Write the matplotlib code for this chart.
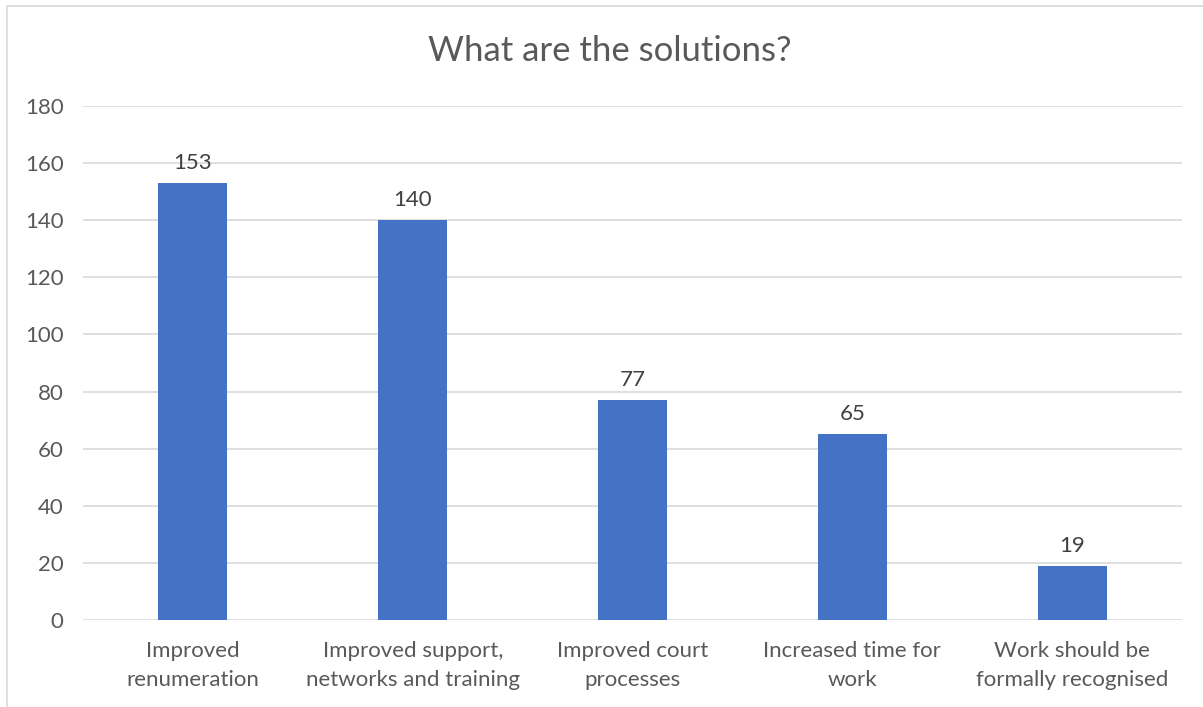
import matplotlib.pyplot as plt
from matplotlib.patches import Rectangle

categories = ['Improved\nrenumeration', 'Improved support,\nnetworks and training',
              'Improved court\nprocesses', 'Increased time for\nwork',
              'Work should be\nformally recognised']
values = [153, 140, 77, 65, 19]
yticks = list(range(0, 200, 20))

plt.rcParams['font.family'] = ['Lato', 'DejaVu Sans']
grey = '#595959'

fig = plt.figure(figsize=(12.03, 7.07), dpi=100)
ax = fig.add_axes([0.069, 0.123, 0.9135, 0.727])

x = list(range(len(categories)))
bars = ax.bar(x, values, width=0.314, color='#4472c4', zorder=3)
for xi, v in zip(x, values):
    ax.text(xi, v + 3.5, str(v), ha='center', va='bottom', fontsize=16, color='#404040')

ax.set_xlim(-0.5, len(categories) - 0.5)
ax.set_ylim(0, 180)
ax.set_yticks(yticks)
ax.set_yticklabels(yticks, fontsize=16, color=grey)
ax.set_xticks(x)
ax.set_xticklabels(categories, fontsize=16, color=grey, linespacing=1.55)
ax.tick_params(length=0, pad=15)
ax.tick_params(axis='y', pad=14)
ax.grid(axis='y', color='#d9d9d9', linewidth=1.2, zorder=0)
for s in ax.spines.values():
    s.set_visible(False)

fig.text(0.507, 0.928, 'What are the solutions?', ha='center', va='center',
         fontsize=25, color=grey)

# outer chart border
fig.patches.append(Rectangle((7 / 1203, -0.01), 1.02, 1 - 6 / 707 + 0.01, transform=fig.transFigure,
                             fill=False, edgecolor='#d9d9d9', linewidth=1.2))

fig.savefig('out.png', dpi=100)
